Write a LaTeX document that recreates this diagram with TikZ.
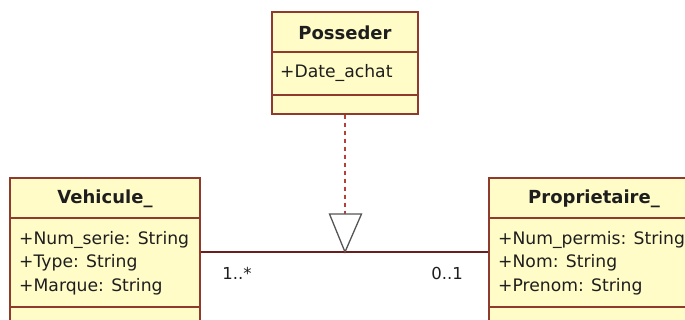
\documentclass[tikz,border=0pt]{standalone}
\usepackage{fontspec}
\setmainfont{DejaVu Sans}
\definecolor{boxfill}{HTML}{FFFCC8}
\definecolor{boxline}{HTML}{8E3B2E}
\definecolor{assoc}{HTML}{6A1E1E}
\definecolor{dashcol}{HTML}{B5403A}
\definecolor{txt}{HTML}{1E1E1E}
\definecolor{tricol}{HTML}{555555}
\begin{document}
\begin{tikzpicture}[x=1pt,y=-1pt,
  classbox/.style={draw=boxline,fill=boxfill,line width=1.3pt,inner sep=0pt},
  divider/.style={draw=boxline,line width=1.3pt},
  titletext/.style={text=txt,font=\fontsize{18}{22}\selectfont\bfseries,inner sep=0pt},
  attrtext/.style={text=txt,font=\fontsize{17.2}{23.5}\selectfont,align=left,inner sep=0pt,anchor=west},
  multtext/.style={text=txt,font=\fontsize{16.5}{20}\selectfont,inner sep=0pt},
  assocline/.style={draw=assoc,line width=1.3pt},
  dashline/.style={draw=dashcol,line width=1.5pt,dash pattern=on 4pt off 4pt},
  trishape/.style={draw=tricol,fill=white,line width=1.3pt,line join=miter}]
\useasboundingbox (0,0) rectangle (685,320);
\fill[white] (0,0) rectangle (685,320);
\clip (0,0) rectangle (685,320);

% Posseder
\node[classbox,minimum width=146pt,minimum height=102pt] (poss) at (345,63) {};
\draw[divider] (poss.west |- 0,52) -- (poss.east |- 0,52);
\draw[divider] (poss.west |- 0,95) -- (poss.east |- 0,95);
\node[titletext] (posstitle) at (345,33) {Posseder};
\node[attrtext] (possattr) at (280,73) {+Date\_achat};

% Vehicule_
\node[classbox,minimum width=190pt,minimum height=162pt] (veh) at (105,259) {};
\draw[divider] (veh.west |- 0,218) -- (veh.east |- 0,218);
\draw[divider] (veh.west |- 0,307) -- (veh.east |- 0,307);
\node[titletext] (vehtitle) at (105,199) {Vehicule\_};
\node[attrtext] (vehattr) at (19,263) {+Num\_serie: String\\+Type: String\\+Marque: String};

% Proprietaire_
\node[classbox,minimum width=211pt,minimum height=162pt] (prop) at (594.5,259) {};
\draw[divider] (prop.west |- 0,218) -- (prop.east |- 0,218);
\draw[divider] (prop.west |- 0,307) -- (prop.east |- 0,307);
\node[titletext] (proptitle) at (594,199) {Proprietaire\_};
\node[attrtext] (propattr) at (498,263) {+Num\_permis: String\\+Nom: String\\+Prenom: String};

% association
\coordinate (apex) at (345,252);
\coordinate (tritop) at (345,214);
\draw[assocline] (veh.east |- apex) -- (prop.west |- apex);
\draw[dashline] (poss.south) -- (tritop);
\draw[trishape] (329.5,214) -- (361.5,214) -- (apex) -- cycle;

\node[multtext] (m1) at (237,273) {1..*};
\node[multtext] (m2) at (447,273) {0..1};
\end{tikzpicture}
\end{document}
